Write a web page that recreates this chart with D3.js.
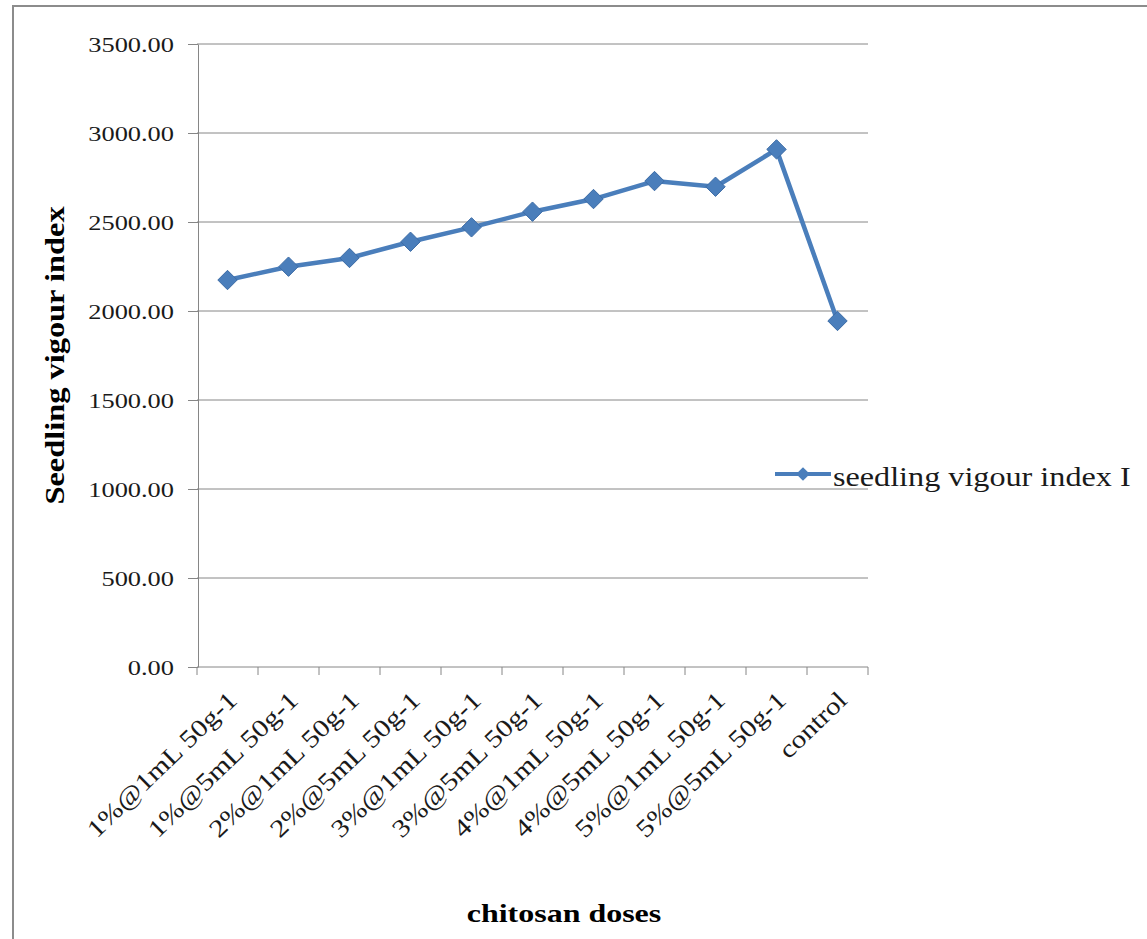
<!DOCTYPE html>
<html>
<head>
<meta charset="utf-8">
<script src="https://cdn.jsdelivr.net/npm/d3@7"></script>
<style>
  body { margin: 0; background: #fff; }
  text { font-family: "Liberation Serif", "Times New Roman", serif; }
</style>
</head>
<body>
<div id="my_dataviz"></div>
<script>
// chart data
const doses = ["1%@1mL 50g-1", "1%@5mL 50g-1", "2%@1mL 50g-1", "2%@5mL 50g-1",
  "3%@1mL 50g-1", "3%@5mL 50g-1", "4%@1mL 50g-1", "4%@5mL 50g-1",
  "5%@1mL 50g-1", "5%@5mL 50g-1", "control"];
const vigourIndex = [2174, 2249, 2298, 2389, 2470, 2558, 2629, 2730, 2698, 2908, 1944];
const yTicks = [0, 500, 1000, 1500, 2000, 2500, 3000, 3500];
const seriesName = "seedling vigour index I";

const W = 1147, H = 939;
const plot = {left: 197, right: 868, top: 44, bottom: 667};
const blue = "#4a7ebb";

let svg = d3.select("#my_dataviz")
  .append("svg")
  .attr("width", W)
  .attr("height", H);

// outer frame of the chart
svg.append("rect")
  .attr("x", 13).attr("y", 6)
  .attr("width", W).attr("height", H)
  .attr("fill", "#fff")
  .attr("stroke", "#8c8c8c")
  .attr("stroke-width", 2);

let x = d3.scaleBand()
  .domain(doses)
  .range([plot.left, plot.right])
  .padding(0);

let y = d3.scaleLinear()
  .domain([0, 3500])
  .range([plot.bottom, plot.top]);

// horizontal grid lines
svg.append("g")
  .selectAll("line")
  .data(yTicks.filter(d => d > 0))
  .join("line")
  .attr("x1", plot.left).attr("x2", plot.right)
  .attr("y1", d => y(d)).attr("y2", d => y(d))
  .attr("stroke", "#868686")
  .attr("stroke-width", 1);

// y axis
let yAxis = svg.append("g")
  .attr("transform", "translate(" + (plot.left + 1) + ",0)")
  .call(d3.axisLeft(y).tickValues(yTicks).tickFormat(d3.format(".2f")).tickSize(10).tickSizeOuter(0));
yAxis.selectAll("path, line").attr("stroke", "#868686");
yAxis.selectAll("text")
  .attr("x", 0)
  .attr("transform", "translate(-24,0) scale(1.2,1)")
  .attr("font-size", 22)
  .attr("font-family", "Liberation Serif")
  .attr("fill", "#1a1a1a");

// x axis with ticks between categories
let xAxisG = svg.append("g");
xAxisG.append("line")
  .attr("x1", plot.left).attr("x2", plot.right)
  .attr("y1", plot.bottom).attr("y2", plot.bottom)
  .attr("stroke", "#868686");
xAxisG.selectAll(".tick")
  .data(doses.concat(["end"]))
  .join("line")
  .attr("x1", (d, i) => i < doses.length ? x(d) : plot.right)
  .attr("x2", (d, i) => i < doses.length ? x(d) : plot.right)
  .attr("y1", plot.bottom).attr("y2", plot.bottom + 8)
  .attr("stroke", "#868686");

xAxisG.selectAll(".lbl")
  .data(doses)
  .join("text")
  .attr("text-anchor", "end")
  .attr("font-size", 25)
  .attr("fill", "#1a1a1a")
  .attr("transform", d => "translate(" + (x(d) + x.bandwidth() / 2 + 11) + "," + (plot.bottom + 35) + ") rotate(-44) scale(1.18,1)")
  .text(d => d);

// the series line
const line = d3.line()
  .x((d, i) => x(doses[i]) + x.bandwidth() / 2)
  .y(d => y(d));

svg.append("path")
  .datum(vigourIndex)
  .attr("d", line)
  .attr("fill", "none")
  .attr("stroke", blue)
  .attr("stroke-width", 4.5)
  .attr("stroke-linejoin", "round");

const diamond = d3.symbol().type(d3.symbolDiamond2);

svg.append("g")
  .selectAll("path")
  .data(vigourIndex)
  .join("path")
  .attr("transform", (d, i) => "translate(" + (x(doses[i]) + x.bandwidth() / 2) + "," + y(d) + ")")
  .attr("d", diamond.size(240))
  .attr("fill", blue)
  .attr("stroke", "#3d6ca6")
  .attr("stroke-width", 1);

// legend
let legend = svg.append("g");
legend.append("line")
  .attr("x1", 775).attr("x2", 831)
  .attr("y1", 474).attr("y2", 474)
  .attr("stroke", blue).attr("stroke-width", 4);
legend.append("path")
  .attr("transform", "translate(803,474)")
  .attr("d", diamond.size(120))
  .attr("fill", blue);
legend.append("text")
  .attr("transform", "translate(833,486) scale(1.15,1)")
  .attr("font-size", 28)
  .attr("fill", "#1a1a1a")
  .text(seriesName);

// axis titles
svg.append("text")
  .attr("text-anchor", "middle")
  .attr("font-weight", "bold")
  .attr("font-size", 26)
  .attr("transform", "translate(564,922) scale(1.23,1)")
  .text("chitosan doses");

svg.append("text")
  .attr("text-anchor", "middle")
  .attr("font-weight", "bold")
  .attr("font-size", 27)
  .attr("transform", "translate(64," + ((plot.top + plot.bottom) / 2) + ") rotate(-90) scale(1.2,1)")
  .text("Seedling vigour index");
</script>
</body>
</html>
